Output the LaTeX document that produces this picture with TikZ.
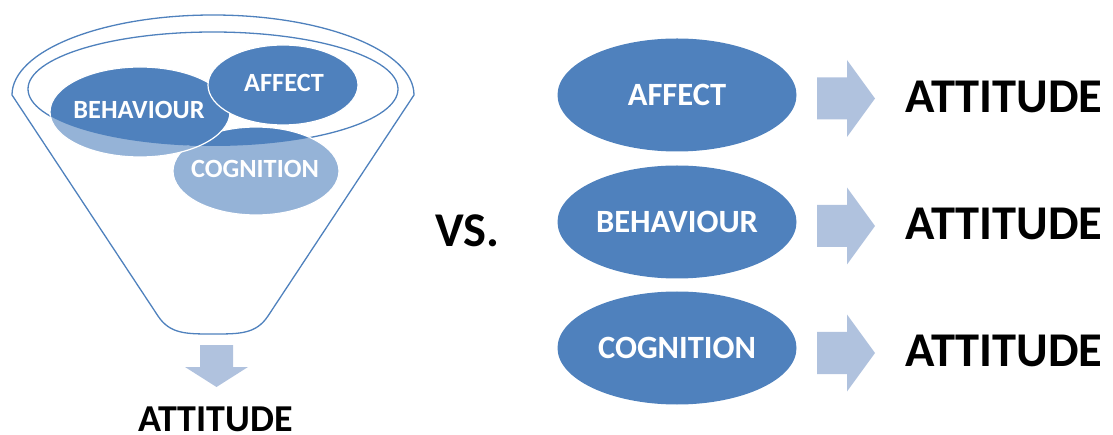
\documentclass[tikz,border=0pt]{standalone}
\usepackage{fontspec}
\setmainfont{Carlito}
\usetikzlibrary{shapes.geometric}
\definecolor{blueA}{RGB}{79,129,189}
\definecolor{blueL}{RGB}{149,179,215}
\definecolor{arrowC}{RGB}{176,194,222}
% the three overlapping components inside the funnel
\newcommand{\componentblobs}[1]{%
  \filldraw[fill=#1, blob] (256,171) ellipse [x radius=83, y radius=44];
  \filldraw[fill=#1, blob] (140,112) ellipse [x radius=90, y radius=45];
  \filldraw[fill=#1, blob] (283,85) ellipse [x radius=75, y radius=40];
}
% block arrow pointing right, centred on height #1
\newcommand{\rightblock}[1]{%
  \fill[arrowC, shift={(0,#1)}] (817,-21) -- (847,-21) -- (847,-38.5) -- (875,0)
    -- (847,38.5) -- (847,21) -- (817,21) -- cycle;
}
\begin{document}
\begin{tikzpicture}[x=1pt, y=-1pt,
  rim/.style={draw=blueA, line width=1.3pt},
  blob/.style={draw=white, line width=1.2pt},
  inlbl/.style={text=white, inner sep=0pt, font=\bfseries\fontsize{26.3}{28}\selectfont},
  oval/.style={ellipse, fill=blueA, inner sep=0pt, minimum width=239pt, minimum height=113pt,
    text=white, font=\bfseries\fontsize{32.5}{34}\selectfont},
  big/.style={inner sep=0pt, font=\bfseries\fontsize{48.5}{51}\selectfont},
]
\useasboundingbox (0,0) rectangle (1113,435);

% funnel outline and its rim
\draw[rim, line join=round] (12,95) arc[start angle=180, end angle=360, x radius=201, y radius=80]
  -- (268,316) .. controls (256,334) and (240,334) .. (213,334)
  .. controls (186,334) and (170,334) .. (158,316) -- cycle;
\draw[rim] (213,89) ellipse [x radius=185, y radius=57];

% components: pale where they spill over the rim, full colour inside it
\componentblobs{blueL}
\begin{scope}
  \clip (213,89) ellipse [x radius=185, y radius=57];
  \componentblobs{blueA}
\end{scope}

\node[inlbl] (fbeh) at (139,110) {BEHAVIOUR};
\node[inlbl] (faff) at (284,83) {AFFECT};
\node[inlbl] (fcog) at (255,169) {COGNITION};

% funnel output
\fill[arrowC] (200,345) -- (233,345) -- (233,367) -- (248,367) -- (216.5,387)
  -- (185,367) -- (200,367) -- cycle;
\node[big, font=\bfseries\fontsize{38}{40}\selectfont] (fatt) at (215.5,419) {ATTITUDE};

\node[big] (vs) at (467.5,231) {VS.};

% separate components
\node[oval] (raff) at (677,95) {AFFECT};
\node[oval] (rbeh) at (677,222) {BEHAVIOUR};
\node[oval] (rcog) at (677,348) {COGNITION};

\rightblock{98.5}
\rightblock{226}
\rightblock{353}

\node[big] (att1) at (1004,97) {ATTITUDE};
\node[big] (att2) at (1004,224) {ATTITUDE};
\node[big] (att3) at (1004,351) {ATTITUDE};
\end{tikzpicture}
\end{document}
